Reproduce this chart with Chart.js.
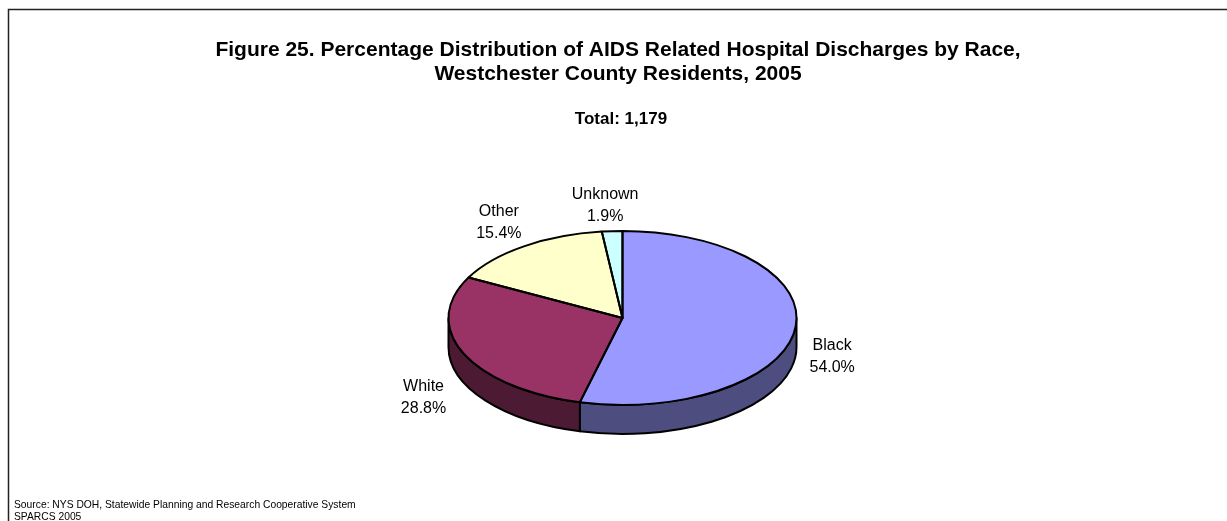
<!DOCTYPE html>
<html>
<head>
<meta charset="utf-8">
<script src="https://cdn.jsdelivr.net/npm/chart.js@4.4.1/dist/chart.umd.min.js"></script>
<style>
  html, body { margin: 0; padding: 0; background: #fff; }
  #wrap { width: 1227px; height: 521px; }
</style>
</head>
<body>
<div id="wrap"><canvas id="myChart" width="1227" height="521"></canvas></div>
<script>
const categories = ['Black', 'White', 'Other', 'Unknown'];
const percents = [54.0, 28.8, 15.4, 1.9];
const topColors = ['#9999FF', '#993366', '#FFFFCC', '#CCFFFF'];
const sideColors = ['#4D4D80', '#4D1A33', '#808066', '#668080'];

const titleLines = [
  'Figure 25. Percentage Distribution of AIDS Related Hospital Discharges by Race,',
  'Westchester County Residents, 2005'
];
const subtitle = 'Total: 1,179';
const sourceLines = [
  'Source: NYS DOH, Statewide Planning and Research Cooperative System',
  'SPARCS 2005'
];

// where each label sits, relative to the middle of its slice on the rim
const labelNudges = [[37, 21], [-40, 38], [-25, -30], [-7, -32]];

const TILT = 0.5;   // vertical squash of the top face
const DEPTH = 29;   // thickness of the pie
const FONT = 'Arial, "Liberation Sans", sans-serif';

const pie3d = {
  id: 'pie3d',
  beforeDatasetsDraw(chart) {
    const ctx = chart.ctx;
    const arcs = chart.getDatasetMeta(0).data;
    const cx = arcs[0].x, cy = arcs[0].y, r = arcs[0].outerRadius;

    // side walls, only the front half is visible
    ctx.save();
    ctx.lineWidth = 2;
    ctx.strokeStyle = '#000';
    ctx.lineJoin = 'round';
    arcs.forEach((arc, i) => {
      [0, 2 * Math.PI].forEach(shift => {
        const a0 = Math.max(arc.startAngle, shift);
        const a1 = Math.min(arc.endAngle, shift + Math.PI);
        if (a1 <= a0) return;
        ctx.beginPath();
        ctx.ellipse(cx, cy, r, r * TILT, 0, a0, a1);
        ctx.ellipse(cx, cy + DEPTH, r, r * TILT, 0, a1, a0, true);
        ctx.closePath();
        ctx.fillStyle = sideColors[i];
        ctx.fill();
        ctx.stroke();
      });
    });
    ctx.restore();

    // squash the slices chart.js is about to draw
    ctx.save();
    ctx.translate(cx, cy);
    ctx.scale(1, TILT);
    ctx.translate(-cx, -cy);
  },
  afterDatasetsDraw(chart) {
    const ctx = chart.ctx;
    ctx.restore();
    const arcs = chart.getDatasetMeta(0).data;
    const cx = arcs[0].x, cy = arcs[0].y, r = arcs[0].outerRadius;

    ctx.save();
    ctx.lineWidth = 2;
    ctx.strokeStyle = '#000';
    ctx.lineJoin = 'round';
    arcs.forEach(arc => {
      ctx.beginPath();
      ctx.moveTo(cx, cy);
      ctx.ellipse(cx, cy, r, r * TILT, 0, arc.startAngle, arc.endAngle);
      ctx.closePath();
      ctx.stroke();
    });

    ctx.fillStyle = '#000';
    ctx.font = '16px ' + FONT;
    ctx.textAlign = 'center';
    ctx.textBaseline = 'alphabetic';
    arcs.forEach((arc, i) => {
      const mid = (arc.startAngle + arc.endAngle) / 2;
      const x = cx + r * Math.cos(mid) + labelNudges[i][0];
      const y = cy + r * TILT * Math.sin(mid) + labelNudges[i][1];
      ctx.fillText(categories[i], x, y);
      ctx.fillText(percents[i].toFixed(1) + '%', x, y + 22);
    });
    ctx.restore();
  },
  afterDraw(chart) {
    const ctx = chart.ctx;
    ctx.save();
    // frame
    ctx.strokeStyle = '#222';
    ctx.lineWidth = 1.5;
    ctx.beginPath();
    ctx.moveTo(8.5, chart.height);
    ctx.lineTo(8.5, 9.5);
    ctx.lineTo(chart.width, 9.5);
    ctx.stroke();

    ctx.fillStyle = '#000';
    ctx.textAlign = 'center';
    ctx.font = 'bold 21px ' + FONT;
    ctx.fillText(titleLines[0], 618, 56);
    ctx.fillText(titleLines[1], 618, 80);
    ctx.font = 'bold 17px ' + FONT;
    ctx.fillText(subtitle, 621, 124);

    ctx.textAlign = 'left';
    ctx.font = '10.3px ' + FONT;
    ctx.fillText(sourceLines[0], 14, 507.5);
    ctx.fillText(sourceLines[1], 14, 520);
    ctx.restore();
  }
};

new Chart(document.getElementById('myChart'), {
  type: 'pie',
  data: {
    labels: categories,
    datasets: [{
      data: percents,
      backgroundColor: topColors,
      borderWidth: 0,
      hoverOffset: 0,
      offset: 0
    }]
  },
  options: {
    responsive: false,
    animation: false,
    events: [],
    layout: { padding: { left: 448, right: 430, top: 144, bottom: 29 } },
    plugins: {
      legend: { display: false },
      title: { display: false },
      tooltip: { enabled: false }
    }
  },
  plugins: [pie3d]
});
</script>
</body>
</html>
